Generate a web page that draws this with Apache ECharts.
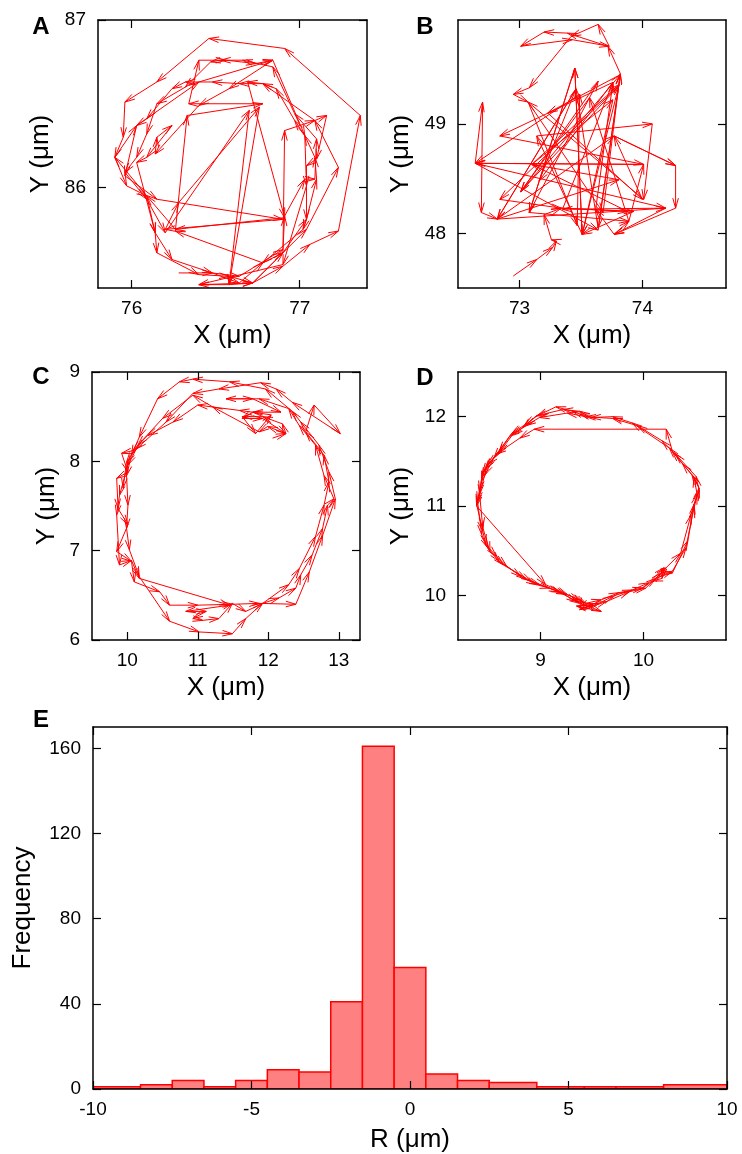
<!DOCTYPE html>
<html>
<head>
<meta charset="utf-8">
<script src="https://cdn.jsdelivr.net/npm/echarts@6/dist/echarts.min.js"></script>
<style>
  html, body { margin: 0; padding: 0; background: #fff; }
  #chart { width: 742px; height: 1154px; }
</style>
</head>
<body>
<div id="chart"></div>
<script>
// Particle trajectories (X, Y in micrometres), one point per frame
const trackA = [
  [76.28,85.49],[76.48,85.49],[76.64,85.43],[76.78,85.55],[76.90,85.61],[77.04,85.81],[77.10,86.05],[77.09,86.18],[77.03,86.31],[76.97,86.40],
  [76.86,86.59],[76.78,86.62],[76.64,86.62],[76.48,86.63],[76.32,86.63],[76.24,86.59],[76.09,86.41],[76.03,86.37],[75.96,86.07],[76.15,85.93],
  [76.90,85.81],[76.20,85.75],[76.28,85.91],[76.76,86.48],[76.58,85.42],[76.40,85.42],[76.72,85.43],[76.90,85.53],[77.06,85.66],[77.23,85.74],
  [77.36,86.43],[76.91,86.83],[76.46,86.89],[76.15,86.63],[75.96,86.51],[75.95,86.30],[75.90,86.18],[75.97,86.01],[76.09,85.95],[76.14,85.73],
  [76.15,85.61],[76.40,85.48],[76.58,85.47],[76.72,85.43],[76.90,85.61],[76.91,86.34],[77.09,86.40],[77.16,86.43],[77.10,86.17],[77.04,86.13],
  [77.04,85.81],[77.02,85.75],[76.78,85.55],[76.26,85.74],[76.33,86.43],[76.78,86.50],[76.34,86.50],[76.40,86.76],[76.56,86.76],[76.74,86.74],
  [76.84,86.76],[76.58,86.59],[76.40,86.49],[76.14,86.20],[76.15,86.30],[76.24,86.37],[76.09,86.18],[76.03,86.15],[76.14,85.73],[76.24,85.57],
  [76.48,85.49],[76.64,85.47],[76.90,85.63],[76.91,85.83],[77.03,86.05],[77.09,86.05],[77.10,86.29],[76.97,86.44],[76.84,86.72],[76.66,86.76],
  [76.53,86.76],[76.47,86.75],[76.32,86.60],[76.15,86.50],[76.09,86.32],[76.03,86.18],[75.96,86.09],[76.09,85.93],[76.20,85.73],[76.70,86.46],
  [76.58,85.42],[76.72,85.43],[77.04,85.75],[77.23,86.12],[77.09,86.40],[76.78,86.62],[76.69,86.63],[76.91,85.82],[76.26,85.75],[76.09,85.95],
  [75.90,86.18],[76.03,86.37],[76.40,86.63],[76.84,86.76],[77.03,86.31],[77.04,86.01],[76.90,85.54],[76.40,85.42]
];

const trackB = [
  [72.95,47.61],[73.14,47.76],[73.27,47.87],[73.30,47.93],[73.26,47.94],[73.20,48.17],[73.34,48.23],[73.93,48.20],[73.51,47.99],[73.45,49.51],
  [73.08,48.19],[73.64,49.39],[73.01,48.38],[73.82,49.45],[73.64,48.05],[73.46,49.32],[72.82,48.13],[73.77,48.89],[74.27,48.62],[74.27,48.23],
  [73.77,47.99],[73.62,48.22],[73.76,49.38],[72.84,48.89],[74.01,48.63],[72.64,48.64],[72.70,49.20],[72.69,48.19],[72.82,48.13],[73.81,48.49],
  [73.10,48.63],[73.81,49.36],[73.51,47.99],[73.14,48.89],[74.08,49.00],[74.01,48.31],[73.07,49.20],[73.68,48.19],[73.82,49.46],[73.72,49.71],
  [73.39,49.83],[73.20,49.84],[73.01,49.71],[73.43,49.77],[73.73,49.71],[73.64,49.91],[73.42,49.80],[73.08,49.33],[72.95,49.27],[73.07,49.20],
  [73.47,48.07],[73.49,49.27],[72.64,48.64],[74.19,48.23],[73.35,48.22],[73.76,49.38],[73.16,48.48],[73.46,49.32],[72.82,48.13],[74.19,48.23],
  [73.77,47.99],[73.89,48.11],[73.57,49.24],[73.01,48.38],[73.81,49.35],[72.84,48.31],[73.34,48.23],[73.88,48.20],[73.10,48.63],[73.76,49.22],
  [73.51,47.99],[73.45,49.51],[73.08,48.19],[73.89,48.11],[74.01,48.63],[72.64,48.64],[73.64,48.03],[73.82,49.45],[73.23,49.10],[74.00,48.31],
  [73.77,48.89],[74.27,48.62]
];

const trackC = [
  [12.06,8.26],[12.25,8.31],[12.20,8.42],[11.92,8.50],[11.63,8.50],[11.82,8.31],[12.04,8.52],[11.78,8.55],[11.59,8.57],[11.00,8.63],
  [10.65,8.44],[10.29,8.29],[10.08,8.12],[9.92,8.09],[10.01,7.88],[9.85,7.81],[9.87,7.47],[10.01,7.29],[9.85,6.99],[10.06,6.88],
  [10.10,6.65],[10.46,6.54],[10.60,6.39],[11.00,6.39],[11.49,6.40],[11.87,6.41],[12.39,6.40],[12.58,6.76],[12.77,7.17],[12.95,7.58],
  [12.86,7.88],[12.72,8.18],[12.46,8.44],[12.34,8.56],[11.96,8.81],[11.45,8.89],[10.93,8.92],[10.74,8.89],[10.43,8.70],[10.17,8.27],
  [10.06,8.07],[9.99,7.84],[10.01,7.51],[9.99,7.25],[10.03,7.01],[10.17,6.71],[10.60,6.21],[11.02,6.09],[11.49,6.07],[11.68,6.24],
  [11.92,6.41],[12.29,6.62],[12.44,6.80],[12.67,7.16],[12.79,7.51],[12.86,7.77],[12.79,8.07],[12.53,8.33],[12.65,8.63],[13.02,8.31],
  [12.34,8.66],[12.11,8.81],[11.89,8.88],[11.30,8.81],[10.93,8.76],[10.55,8.44],[10.13,8.14],[10.01,7.96],[9.89,7.62],[9.85,7.40],
  [9.89,6.84],[10.06,6.89],[10.17,6.69],[11.45,6.39],[10.83,6.32],[11.12,6.32],[10.93,6.24],[11.07,6.22],[11.30,6.24],[11.49,6.41],
  [11.68,6.32],[11.92,6.41],[12.15,6.47],[12.39,6.58],[12.46,6.73],[12.62,6.95],[12.77,7.25],[12.84,7.51],[12.93,7.58],[12.79,7.84],
  [12.67,8.18],[12.44,8.40],[12.29,8.59],[11.87,8.70],[11.40,8.70],[11.78,8.70],[12.18,8.55],[11.78,8.55],[11.63,8.48],[11.92,8.48],
  [12.25,8.31],[11.99,8.39],[11.87,8.33],[11.21,8.61],[10.93,8.74],[10.50,8.48],[10.15,8.18],[9.99,7.99],[9.94,7.70]
];

const trackD = [
  [9.51,11.99],[9.38,12.03],[9.31,12.06],[9.15,12.11],[8.97,12.01],[8.85,11.91],[8.72,11.81],[8.60,11.61],[8.47,11.43],[8.44,11.37],
  [8.41,11.17],[8.38,11.02],[8.44,10.72],[8.47,10.57],[8.57,10.44],[8.67,10.33],[8.81,10.21],[8.96,10.12],[9.09,10.08],[9.25,10.01],
  [9.38,9.95],[9.44,9.91],[9.59,9.95],[9.76,10.03],[9.99,10.08],[10.12,10.19],[10.28,10.27],[10.41,10.53],[10.49,10.98],[10.54,11.20],
  [10.47,11.35],[10.28,11.61],[10.22,11.86],[8.94,11.86],[8.80,11.76],[8.57,11.58],[8.46,11.41],[8.43,11.28],[8.39,11.05],[8.43,10.68],
  [8.49,10.53],[8.60,10.38],[8.86,10.18],[8.99,10.12],[9.18,10.04],[9.35,9.93],[9.59,9.82],[9.35,9.88],[9.51,9.90],[9.38,9.84],
  [9.57,9.91],[9.70,9.99],[9.89,10.06],[10.05,10.14],[10.20,10.31],[10.18,10.19],[10.09,10.16],[10.22,10.31],[10.36,10.47],[10.46,10.90],
  [10.52,11.13],[10.49,11.32],[10.38,11.47],[10.25,11.65],[9.89,11.93],[9.70,12.00],[9.49,11.99],[9.38,12.06],[9.22,12.08],[8.96,12.01],
  [8.83,11.88],[8.70,11.78],[8.55,11.54],[8.46,11.35],[8.38,11.00],[9.05,10.12],[9.26,10.01],[9.41,9.93],[9.38,9.86],[9.51,9.88],
  [9.64,9.93],[9.86,10.04],[10.02,10.08],[10.17,10.25],[10.28,10.25],[10.43,10.61],[10.49,11.02],[10.54,11.17],[10.51,11.33],[10.31,11.58],
  [10.18,11.73],[9.94,11.90],[9.70,11.98],[9.44,12.00],[9.26,12.04],[8.99,11.99],[8.86,11.90],[8.73,11.80],[8.59,11.58],[8.49,11.47],
  [8.43,11.32],[8.41,11.13],[8.44,10.76],[8.51,10.49],[8.64,10.34],[8.91,10.16],[9.20,10.03],[9.38,9.91]
];

// Histogram of R: bin edges and counts
const binStart = [-10, -8.5, -7.5, -6.5, -5.5, -4.5, -3.5, -2.5, -1.5, -0.5, 0.5, 1.5, 2.5, 4, 5.5, 6.5, 8];
const binEnd   = [-8.5, -7.5, -6.5, -5.5, -4.5, -3.5, -2.5, -1.5, -0.5, 0.5, 1.5, 2.5, 4, 5.5, 6.5, 8, 10];
const binCount = [1, 2, 4, 1, 4, 9, 8, 41, 161, 57, 7, 4, 3, 1, 1, 1, 2];

// Tick values per panel
const xTicksA = [76, 77],          yTicksA = [86, 87];
const xTicksB = [73, 74],          yTicksB = [48, 49];
const xTicksC = [10, 11, 12, 13],  yTicksC = [6, 7, 8, 9];
const xTicksD = [9, 10],           yTicksD = [10, 11, 12];
const xTicksE = [-10, -5, 0, 5, 10], yTicksE = [0, 40, 80, 120, 160];

const FONT = 'Liberation Sans';
const RED = '#ff0000';

const panels = [
  { label: 'A', lx: 41, ly: 27, grid: { left: 98, top: 20, width: 269, height: 268 },
    x: [75.8, 77.4], y: [85.4, 87], xt: xTicksA, yt: yTicksA, xName: 'X (μm)', yName: 'Y (μm)', xGap: 35, yGap: 44 },
  { label: 'B', lx: 425, ly: 27, grid: { left: 458, top: 20, width: 268, height: 268 },
    x: [72.5, 74.68], y: [47.5, 49.95], xt: xTicksB, yt: yTicksB, xName: 'X (μm)', yName: 'Y (μm)', xGap: 35, yGap: 44 },
  { label: 'C', lx: 41, ly: 377, grid: { left: 92, top: 372, width: 268, height: 268 },
    x: [9.5, 13.3], y: [6, 9], xt: xTicksC, yt: yTicksC, xName: 'X (μm)', yName: 'Y (μm)', xGap: 35, yGap: 32 },
  { label: 'D', lx: 425, ly: 378, grid: { left: 458, top: 372, width: 268, height: 268 },
    x: [8.2, 10.8], y: [9.5, 12.5], xt: xTicksD, yt: yTicksD, xName: 'X (μm)', yName: 'Y (μm)', xGap: 35, yGap: 44 },
  { label: 'E', lx: 41, ly: 720, grid: { left: 93, top: 727, width: 634, height: 363 },
    x: [-10, 10], y: [0, 170], xt: xTicksE, yt: yTicksE, xName: 'R (μm)', yName: 'Frequency', xGap: 38, yGap: 57 }
];

function axisPair(p, gi, dim) {
  const range = dim === 'x' ? p.x : p.y;
  const ticks = dim === 'x' ? p.xt : p.yt;
  const pos = dim === 'x' ? ['bottom', 'top'] : ['left', 'right'];
  const common = {
    gridIndex: gi, type: 'value', min: range[0], max: range[1], z: 10,
    axisLine: { show: true, onZero: false, lineStyle: { color: '#000', width: 1.5 } },
    axisTick: { show: true, inside: true, length: 8, customValues: ticks, lineStyle: { color: '#000', width: 1.2 } },
    splitLine: { show: false }
  };
  const main = Object.assign({}, common, {
    position: pos[0],
    axisLabel: {
      show: true,
      customValues: ticks,
      margin: dim === 'x' ? 11 : 12,
      formatter: v => '{t|' + v + '}',
      rich: { t: { fontSize: 19, fontFamily: FONT, color: '#000' } }
    },
    name: dim === 'x' ? p.xName : p.yName,
    nameLocation: 'middle',
    nameGap: dim === 'x' ? p.xGap : p.yGap,
    nameTextStyle: { color: '#000', fontFamily: FONT, fontSize: 26 }
  });
  const mirror = Object.assign({}, common, { position: pos[1], axisLabel: { show: false } });
  return [main, mirror];
}

function segments(track) {
  const out = [];
  for (let i = 1; i < track.length; i++) {
    out.push([track[i - 1][0], track[i - 1][1], track[i][0], track[i][1]]);
  }
  return out;
}

// Each step drawn as a line with an open arrowhead at its end point
function renderArrow(params, api) {
  const a = api.coord([api.value(0), api.value(1)]);
  const b = api.coord([api.value(2), api.value(3)]);
  const dx = b[0] - a[0], dy = b[1] - a[1];
  const len = Math.sqrt(dx * dx + dy * dy);
  const children = [{
    type: 'line',
    shape: { x1: a[0], y1: a[1], x2: b[0], y2: b[1] },
    style: { stroke: RED, lineWidth: 1 }
  }];
  if (len > 0.5) {
    const ux = dx / len, uy = dy / len;
    const hl = 10, hw = 2.8;
    const bx = b[0] - ux * hl, by = b[1] - uy * hl;
    children.push({
      type: 'polyline',
      shape: { points: [[bx - uy * hw, by + ux * hw], [b[0], b[1]], [bx + uy * hw, by - ux * hw]] },
      style: { stroke: RED, fill: null, lineWidth: 1 }
    });
  }
  return { type: 'group', children };
}

function renderBin(params, api) {
  const tl = api.coord([api.value(0), api.value(2)]);
  const br = api.coord([api.value(1), 0]);
  return {
    type: 'rect',
    shape: { x: tl[0], y: tl[1], width: br[0] - tl[0], height: br[1] - tl[1] },
    style: { fill: '#ff8080', stroke: RED, lineWidth: 1.5 }
  };
}

const grids = [], xAxes = [], yAxes = [], series = [], texts = [];
const tracks = [trackA, trackB, trackC, trackD];

panels.forEach((p, gi) => {
  grids.push(Object.assign({ containLabel: false }, p.grid));
  xAxes.push(...axisPair(p, gi, 'x'));
  yAxes.push(...axisPair(p, gi, 'y'));
  texts.push({
    type: 'text', x: p.lx, y: p.ly,
    style: { text: p.label, fill: '#000', font: 'bold 24px "Liberation Sans", Arial, sans-serif', textAlign: 'center', textVerticalAlign: 'middle' }
  });
  if (gi < 4) {
    series.push({
      type: 'custom', xAxisIndex: gi * 2, yAxisIndex: gi * 2, clip: true,
      renderItem: renderArrow,
      encode: { x: [0, 2], y: [1, 3] },
      data: segments(tracks[gi])
    });
  } else {
    series.push({
      type: 'custom', xAxisIndex: gi * 2, yAxisIndex: gi * 2, clip: true,
      renderItem: renderBin,
      encode: { x: [0, 1], y: 2 },
      data: binStart.map((s, i) => [s, binEnd[i], binCount[i]])
    });
  }
});

const chart = echarts.init(document.getElementById('chart'), null, { renderer: 'canvas' });
chart.setOption({
  animation: false,
  backgroundColor: '#fff',
  grid: grids,
  xAxis: xAxes,
  yAxis: yAxes,
  series,
  graphic: texts
});
</script>
</body>
</html>
